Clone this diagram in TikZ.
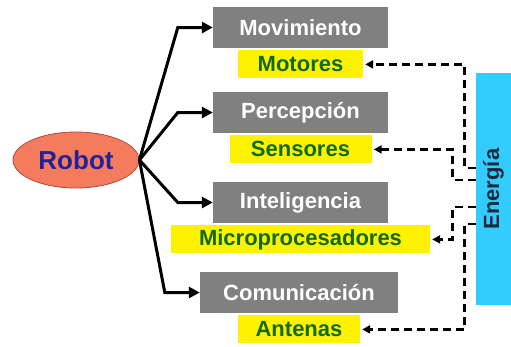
\documentclass[tikz,border=0pt]{standalone}
\usepackage{fontspec}
\setmainfont{Liberation Sans}
\usetikzlibrary{positioning,shapes.geometric,arrows.meta}
\definecolor{robotfill}{HTML}{F47B5E}
\definecolor{robotline}{HTML}{B5483A}
\definecolor{robottext}{HTML}{22229A}
\definecolor{boxgrey}{HTML}{808080}
\definecolor{labgreen}{HTML}{0F6A12}
\definecolor{energyblue}{HTML}{33CCFF}
\definecolor{energytext}{HTML}{1C2A3A}
\begin{document}
\begin{tikzpicture}[x=1pt, y=-1pt, node distance=2pt,
  font=\fontsize{22}{26}\selectfont\bfseries,
  grey/.style = {fill=boxgrey, text=white, minimum width=175, minimum height=41, inner sep=0},
  yel/.style = {fill=yellow, text=labgreen, minimum height=28, inner sep=0},
  arr/.style = {line width=3pt, -{Triangle[length=11pt,width=11pt]}},
  dsh/.style = {line width=2.8pt, dash pattern=on 8pt off 5pt, -{Triangle[length=8pt,width=8pt]}, shorten >=2pt}]
		\useasboundingbox (0,0) rectangle (511,346);
		\node[ellipse, draw=robotline, line width=0.8pt, fill=robotfill, text=robottext, minimum width=126, minimum height=56, inner sep=0, font=\fontsize{26}{30}\selectfont\bfseries] (robot) at (76,160) {Robot};
		\node[grey] (mov) at (300.5,27.5) {Movimiento};
		\node[grey] (per) at (300.5,112.5) {Percepción};
		\node[grey] (int) at (300.5,202.5) {Inteligencia};
		\node[grey, minimum width=198] (com) at (299,292.5) {Comunicación};
		\node[yel, minimum width=125] (mot) [below=of mov] {Motores};
		\node[yel, minimum width=142] (sen) [below=of per] {Sensores};
		\node[yel, minimum width=259] (mic) [below=of int] {Microprocesadores};
		\node[yel, minimum width=122] (ant) [below=of com] {Antenas};
		\node[fill=energyblue, text=energytext, minimum width=35, minimum height=232, inner sep=0] (ene) at (493.5,189) {\rotatebox{90}{Energía}};
		\draw[arr] (robot.east) -- ([xshift=-35pt]mov.west) -- (mov.west);
		\draw[arr] (robot.east) -- ([xshift=-35pt]per.west) -- (per.west);
		\draw[arr] (robot.east) -- ([xshift=-35pt]int.west) -- (int.west);
		\draw[arr] (robot.east) -- ([xshift=-35pt]com.west) -- (com.west);
		\draw[dsh] ([yshift=21pt]ene.west) -- ++(-11,0) |- (mot.east);
		\draw[dsh] ([yshift=9pt]ene.west) -- ++(-23,0) |- (sen.east);
		\draw[dsh] ([yshift=-18pt]ene.west) -- ++(-23,0) |- (mic.east);
		\draw[dsh] ([yshift=-35pt]ene.west) -- ++(-11,0) |- (ant.east);
\end{tikzpicture}
\end{document}
